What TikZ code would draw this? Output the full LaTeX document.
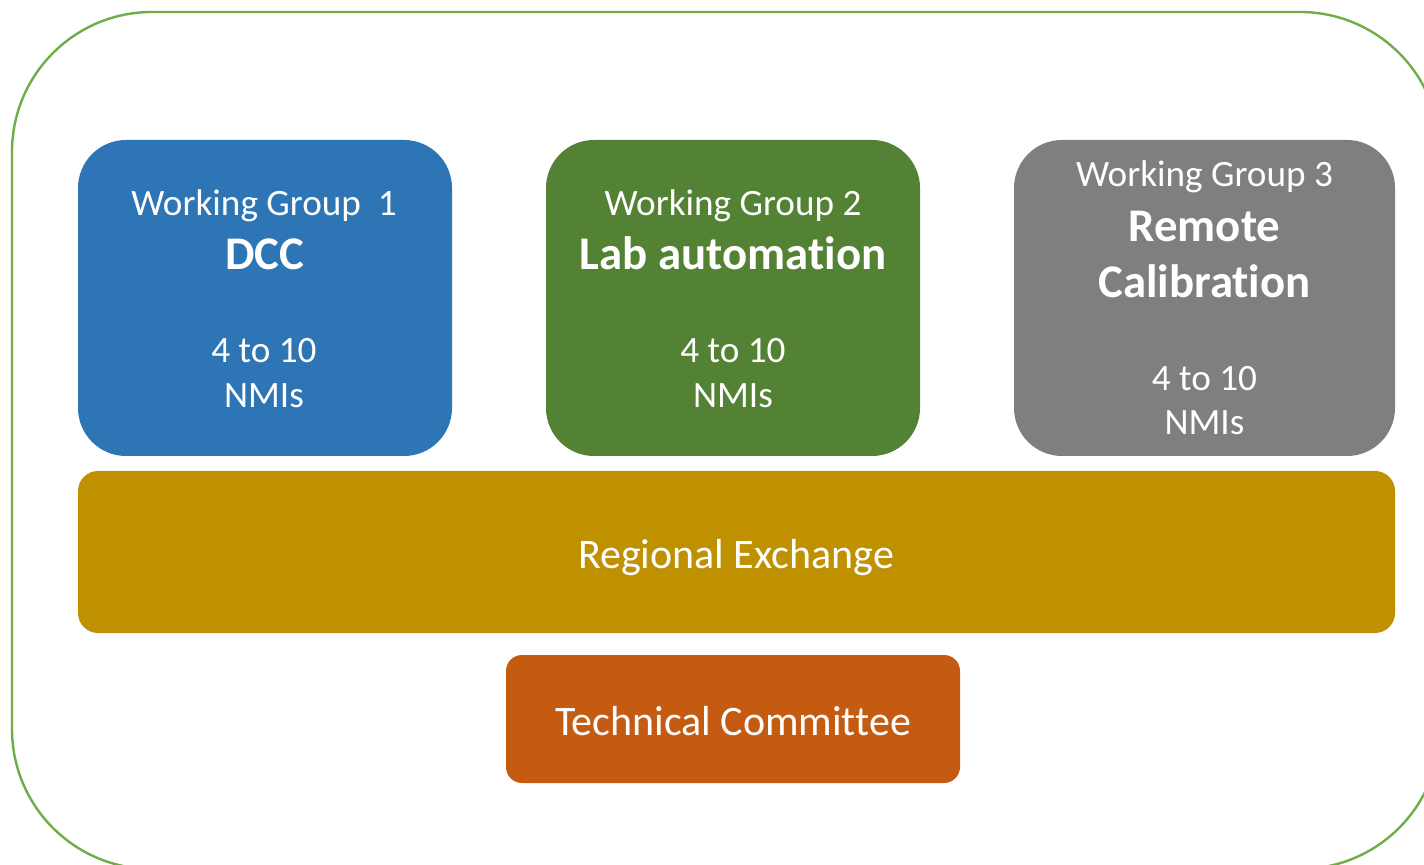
\documentclass[tikz,border=0pt]{standalone}
\usepackage{fontspec}
\setmainfont{Carlito}[Ligatures=NoCommon]
\definecolor{wgblue}{HTML}{2E75B6}
\definecolor{wggreen}{HTML}{548235}
\definecolor{wggray}{HTML}{7F7F7F}
\definecolor{regold}{HTML}{BF9000}
\definecolor{tcorange}{HTML}{C55A11}
\definecolor{outline}{HTML}{70AD47}
\tikzset{
  wgbox/.style={draw=none, rounded corners=24pt, minimum width=187pt, minimum height=158pt, inner sep=0pt},
  txt/.style={text=white, anchor=base, inner sep=0pt, font=\fontsize{18.6}{22}\selectfont},
  btxt/.style={text=white, anchor=base, inner sep=0pt, font=\fontsize{23.4}{28}\selectfont\bfseries},
  ltxt/.style={text=white, anchor=base, inner sep=0pt, font=\fontsize{21}{25}\selectfont},
}
\begin{document}
\begin{tikzpicture}[x=0.5pt,y=-0.5pt]
\useasboundingbox (0,0) rectangle (1424,865);
\clip (0,0) rectangle (1424,865);
\fill[white] (0,0) rectangle (1424,865);
\draw[outline, line width=1.2pt, rounded corners=70pt] (12,12) rectangle (1440,869);

\node[wgbox, fill=wgblue] (wg1) at (265,298) {};
\node[wgbox, fill=wggreen] (wg2) at (733,298) {};
\node[wgbox, fill=wggray, minimum width=190.5pt] (wg3) at (1204.5,298) {};
\node[fill=regold, rounded corners=10pt, minimum width=658.5pt, minimum height=81pt, inner sep=0pt] (re) at (736.5,552) {};
\node[fill=tcorange, rounded corners=8pt, minimum width=227pt, minimum height=64pt, inner sep=0pt] (tc) at (733,719) {};

\node[txt] (wg1a) at (264,216) {Working Group\ \ 1};
\node[btxt] (wg1b) at (265,270) {DCC};
\node[txt] (wg1c) at (264,363) {4 to 10};
\node[txt] (wg1d) at (264,408) {NMIs};

\node[txt] (wg2a) at (733,216) {Working Group 2};
\node[btxt] (wg2b) at (733,270) {Lab automation};
\node[txt] (wg2c) at (733,363) {4 to 10};
\node[txt] (wg2d) at (733,408) {NMIs};

\node[txt] (wg3a) at (1204.5,187) {Working Group 3};
\node[btxt] (wg3b) at (1204.5,242) {Remote};
\node[btxt] (wg3c) at (1204.5,298) {Calibration};
\node[txt] (wg3d) at (1204.5,391) {4 to 10};
\node[txt] (wg3e) at (1204.5,435) {NMIs};

\node[ltxt] (ret) at (736,568) {Regional Exchange};
\node[ltxt] (tct) at (733,735) {Technical Committee};
\end{tikzpicture}
\end{document}
